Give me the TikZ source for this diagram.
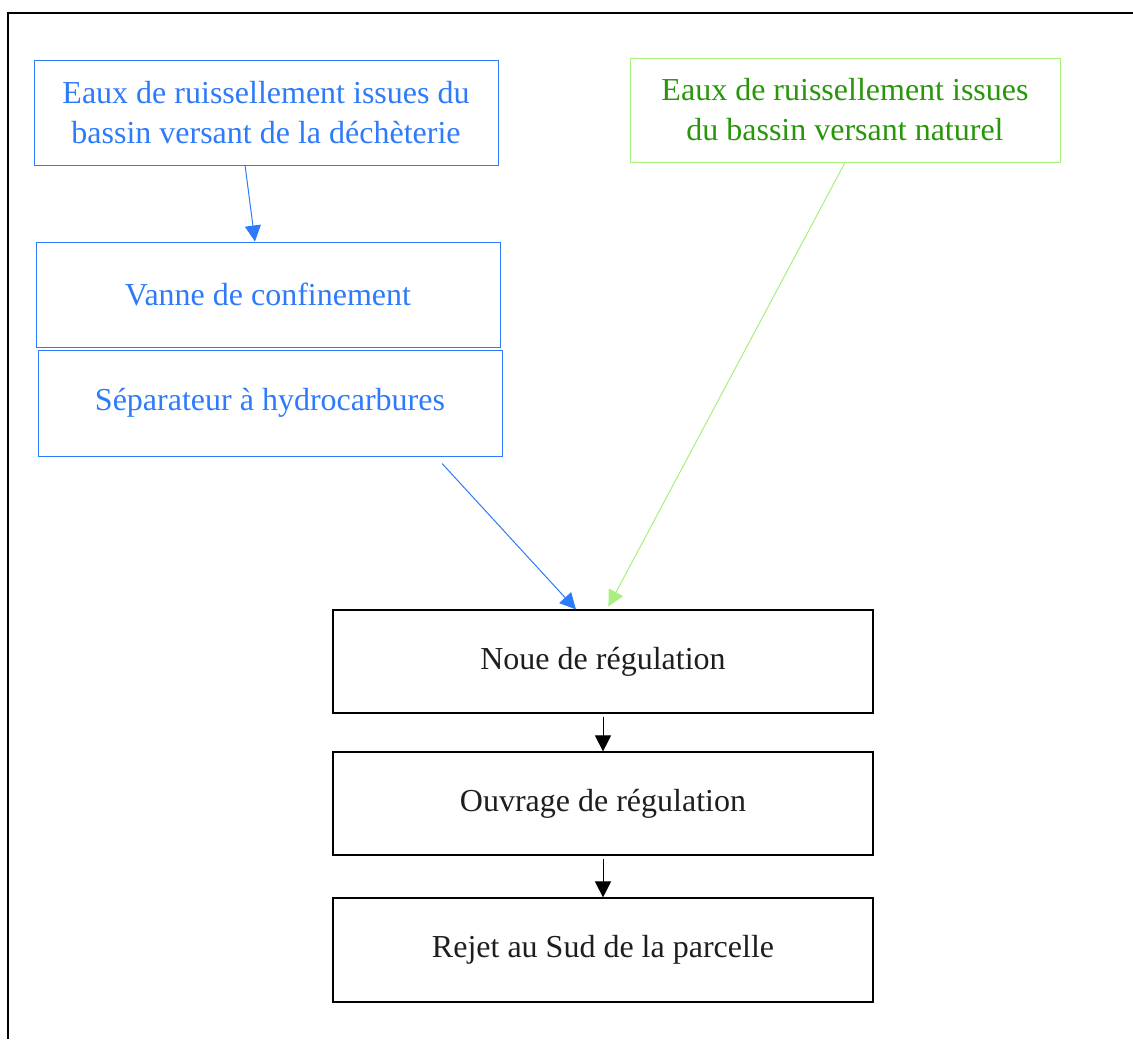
\documentclass[tikz,border=0pt]{standalone}
\usepackage{fontspec}
\setmainfont{Liberation Serif}
\usetikzlibrary{arrows.meta,calc}
\definecolor{eaublue}{RGB}{45,122,250}
\definecolor{eaugreen}{RGB}{40,150,10}
\definecolor{lightgreen}{RGB}{168,240,125}
\definecolor{textgray}{RGB}{30,30,30}
\tikzset{
  box/.style={draw,rectangle,align=center,inner sep=0pt,font=\fontsize{16}{20}\selectfont},
  bluebox/.style={box,draw=eaublue,text=eaublue,line width=0.5pt,minimum width=232pt},
  greenbox/.style={box,draw=lightgreen,text=eaugreen,line width=0.5pt},
  blackbox/.style={box,draw=black,text=textgray,line width=0.6pt,minimum width=270pt,minimum height=51.5pt},
  flow/.style={-{Triangle[length=8pt,width=8pt]},line width=0.5pt}
}

\begin{document}
\begin{tikzpicture}[x=0.5pt,y=-0.5pt]
 		\useasboundingbox (0,0) rectangle (1133,1039);
 		\draw[line width=1.2pt] (8,1039) -- (8,13) -- (1133,13);

 		\node[bluebox,minimum height=52.5pt] (dech) at (266,112.5) {Eaux de ruissellement issues du\\bassin versant de la déchèterie};
 		\node[greenbox,minimum width=215pt,minimum height=52pt] (naturel) at (845,110) {Eaux de ruissellement issues\\du bassin versant naturel};
 		\node[bluebox,minimum height=52.5pt] (vanne) at (268,294.5) {Vanne de confinement};
 		\node[bluebox,minimum height=53pt] (sep) at (270,403) {Séparateur à hydrocarbures};

 		\node[blackbox] (noue) at (603,661.5) {Noue de régulation};
 		\node[blackbox] (ouvrage) at (603,803.5) {Ouvrage de régulation};
 		\node[blackbox,minimum height=52pt] (rejet) at (603,950) {Rejet au Sud de la parcelle};

 		\draw[flow,eaublue] ($(dech.south west)!0.455!(dech.south east)$) -- ($(vanne.north west)!0.472!(vanne.north east)$);
 		\draw[flow,eaublue] ($(sep.south west)!0.87!(sep.south east)+(0,7)$) -- ($(noue.north west)!0.45!(noue.north east)$);
 		\draw[flow,lightgreen] (naturel.south) -- ($(noue.north west)!0.51!(noue.north east)+(0,-3)$);

 		\draw[flow,black,shorten <=1.5pt] (noue.south) -- (ouvrage.north);
 		\draw[flow,black,shorten <=1.5pt] (ouvrage.south) -- (rejet.north);
 	 \end{tikzpicture}
\end{document}
